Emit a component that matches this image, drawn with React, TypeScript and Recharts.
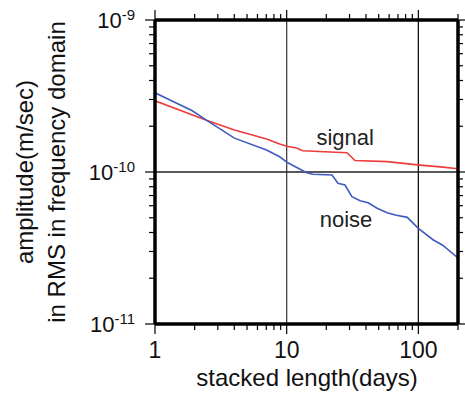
import * as React from "react";
import {
  LineChart,
  Line,
  XAxis,
  YAxis,
  ReferenceLine,
  ReferenceDot,
} from "recharts";

// stacked length (days) and RMS amplitude (m/sec)
const signalDays = [1, 2.49, 4.01, 7.03, 8.84, 10.2, 11.9, 13.2, 28.7, 33.0, 58.0, 103.5, 147, 200];
const signalAmp = [
  2.94e-10, 2.18e-10, 1.89e-10, 1.65e-10, 1.53e-10, 1.47e-10, 1.44e-10, 1.38e-10,
  1.34e-10, 1.19e-10, 1.17e-10, 1.11e-10, 1.08e-10, 1.05e-10,
];

const noiseDays = [
  1, 1.92, 2.49, 4.01, 7.03, 8.84, 10.2, 14.2, 15.8, 22.1, 24.5, 27.7, 31.3, 36.1,
  41.5, 48.6, 58.0, 66.7, 82.4, 100, 130, 152, 200,
];
const noiseAmp = [
  3.32e-10, 2.53e-10, 2.18e-10, 1.67e-10, 1.395e-10, 1.26e-10, 1.15e-10, 0.99e-10,
  0.966e-10, 0.956e-10, 0.843e-10, 0.821e-10, 0.688e-10, 0.647e-10, 0.628e-10,
  0.577e-10, 0.54e-10, 0.521e-10, 0.503e-10, 0.426e-10, 0.357e-10, 0.331e-10, 0.272e-10,
];

const xTicks = [1, 2, 3, 4, 5, 6, 7, 8, 9, 10, 20, 30, 40, 50, 60, 70, 80, 90, 100, 200];
const xLabels: Record<number, string> = { 1: "1", 10: "10", 100: "100" };
const yTicks = [
  1e-11, 2e-11, 3e-11, 4e-11, 5e-11, 6e-11, 7e-11, 8e-11, 9e-11,
  1e-10, 2e-10, 3e-10, 4e-10, 5e-10, 6e-10, 7e-10, 8e-10, 9e-10, 1e-9,
];
const yExponents: Record<string, string> = { "1e-11": "-11", "1e-10": "-10", "1e-9": "-9" };

const signalData = signalDays.map((d, i) => ({ day: d, amp: signalAmp[i] }));
const noiseData = noiseDays.map((d, i) => ({ day: d, amp: noiseAmp[i] }));

const FONT = "'Liberation Sans', Arial, sans-serif";
const isMajor = (v: number) => Math.abs(Math.log10(v) - Math.round(Math.log10(v))) < 1e-6;

const BottomTick = (props: any) => {
  const { x, y, payload } = props;
  const v = payload.value;
  const major = isMajor(v) && v < 200;
  return (
    <g>
      <line x1={x} y1={y} x2={x} y2={y + (major ? 10 : 6)} stroke="#000" strokeWidth={1.2} />
      {xLabels[v] && (
        <text x={x} y={y + 34} textAnchor="middle" fontSize={23} fontFamily={FONT} fill="#111">
          {xLabels[v]}
        </text>
      )}
    </g>
  );
};

const TopTick = (props: any) => {
  const { x, y, payload } = props;
  const major = isMajor(payload.value) && payload.value < 200;
  return <line x1={x} y1={y} x2={x} y2={y - (major ? 10 : 6)} stroke="#000" strokeWidth={1.2} />;
};

const LeftTick = (props: any) => {
  const { x, y, payload } = props;
  const v = payload.value;
  const exp = yExponents[v.toExponential().replace("e+", "e")] ?? yExponents[String(v)];
  const major = isMajor(v);
  return (
    <g>
      <line x1={x} y1={y} x2={x - (major ? 10 : 6)} y2={y} stroke="#000" strokeWidth={1.2} />
      {major && (
        <text x={x - 20} y={y + 8} textAnchor="end" fontFamily={FONT} fill="#111">
          <tspan fontSize={22}>10</tspan>
          <tspan fontSize={15} dy={-8}>{exp}</tspan>
        </text>
      )}
    </g>
  );
};

const RightTick = (props: any) => {
  const { x, y, payload } = props;
  const major = isMajor(payload.value);
  return <line x1={x} y1={y} x2={x + (major ? 7 : 5)} y2={y} stroke="#000" strokeWidth={1.2} />;
};

const yTitle = () => (
  <g fontFamily={FONT} fontSize={24} fill="#111">
    <text x={33} y={172} textAnchor="middle" transform="rotate(-90 33 172)">
      amplitude(m/sec)
    </text>
    <text x={65} y={172} textAnchor="middle" transform="rotate(-90 65 172)">
      in RMS in frequency domain
    </text>
  </g>
);

const xTitle = () => (
  <text x={307} y={386} textAnchor="middle" fontFamily={FONT} fontSize={24} fill="#111">
    stacked length(days)
  </text>
);

const plotLabel = (text: string) => (props: any) => {
  const { viewBox } = props;
  const cx = viewBox.x + viewBox.width / 2;
  const cy = viewBox.y + viewBox.height / 2;
  return (
    <text x={cx} y={cy} textAnchor="middle" fontFamily={FONT} fontSize={22} fill="#222">
      {text}
    </text>
  );
};

export default function App() {
  return (
    <div style={{ position: "absolute", left: 0, top: 0, background: "#fff" }}>
      <LineChart width={465} height={400} margin={{ top: 8, right: 0, bottom: 0, left: 0 }}>
        <XAxis
          xAxisId="b"
          dataKey="day"
          type="number"
          scale="log"
          domain={[1, 200]}
          allowDataOverflow
          ticks={xTicks}
          interval={0}
          height={76}
          tickSize={0}
          tickMargin={0}
          tick={<BottomTick />}
          axisLine={{ stroke: "#000", strokeWidth: 3.5 }}
          label={xTitle}
        />
        <XAxis
          xAxisId="t"
          orientation="top"
          dataKey="day"
          type="number"
          scale="log"
          domain={[1, 200]}
          allowDataOverflow
          ticks={xTicks}
          interval={0}
          height={12}
          tickSize={0}
          tickMargin={0}
          tick={<TopTick />}
          axisLine={{ stroke: "#000", strokeWidth: 3.5 }}
        />
        <YAxis
          yAxisId="l"
          type="number"
          scale="log"
          domain={[1e-11, 1e-9]}
          allowDataOverflow
          ticks={yTicks}
          interval={0}
          width={155}
          tickSize={0}
          tickMargin={0}
          tick={<LeftTick />}
          axisLine={{ stroke: "#000", strokeWidth: 3.5 }}
          label={yTitle}
        />
        <YAxis
          yAxisId="r"
          orientation="right"
          type="number"
          scale="log"
          domain={[1e-11, 1e-9]}
          allowDataOverflow
          ticks={yTicks}
          interval={0}
          width={7}
          tickSize={0}
          tickMargin={0}
          tick={<RightTick />}
          axisLine={{ stroke: "#000", strokeWidth: 3.5 }}
        />
        <ReferenceLine xAxisId="b" yAxisId="l" x={10} stroke="#444" strokeWidth={1.3} />
        <ReferenceLine xAxisId="b" yAxisId="l" x={100} stroke="#111" strokeWidth={1.3} />
        <ReferenceLine xAxisId="b" yAxisId="l" y={1e-10} stroke="#222" strokeWidth={1.3} />
        <Line
          xAxisId="b"
          yAxisId="l"
          data={signalData}
          dataKey="amp"
          type="linear"
          stroke="#ee3c3c"
          strokeWidth={1.6}
          dot={false}
          isAnimationActive={false}
        />
        <Line
          xAxisId="b"
          yAxisId="l"
          data={noiseData}
          dataKey="amp"
          type="linear"
          stroke="#3f5cbf"
          strokeWidth={1.6}
          dot={false}
          isAnimationActive={false}
        />
        <ReferenceDot
          xAxisId="b"
          yAxisId="l"
          x={27.8}
          y={1.505e-10}
          r={0}
          fill="none"
          stroke="none"
          label={plotLabel("signal")}
        />
        <ReferenceDot
          xAxisId="b"
          yAxisId="l"
          x={28.2}
          y={0.435e-10}
          r={0}
          fill="none"
          stroke="none"
          label={plotLabel("noise")}
        />
      </LineChart>
    </div>
  );
}
